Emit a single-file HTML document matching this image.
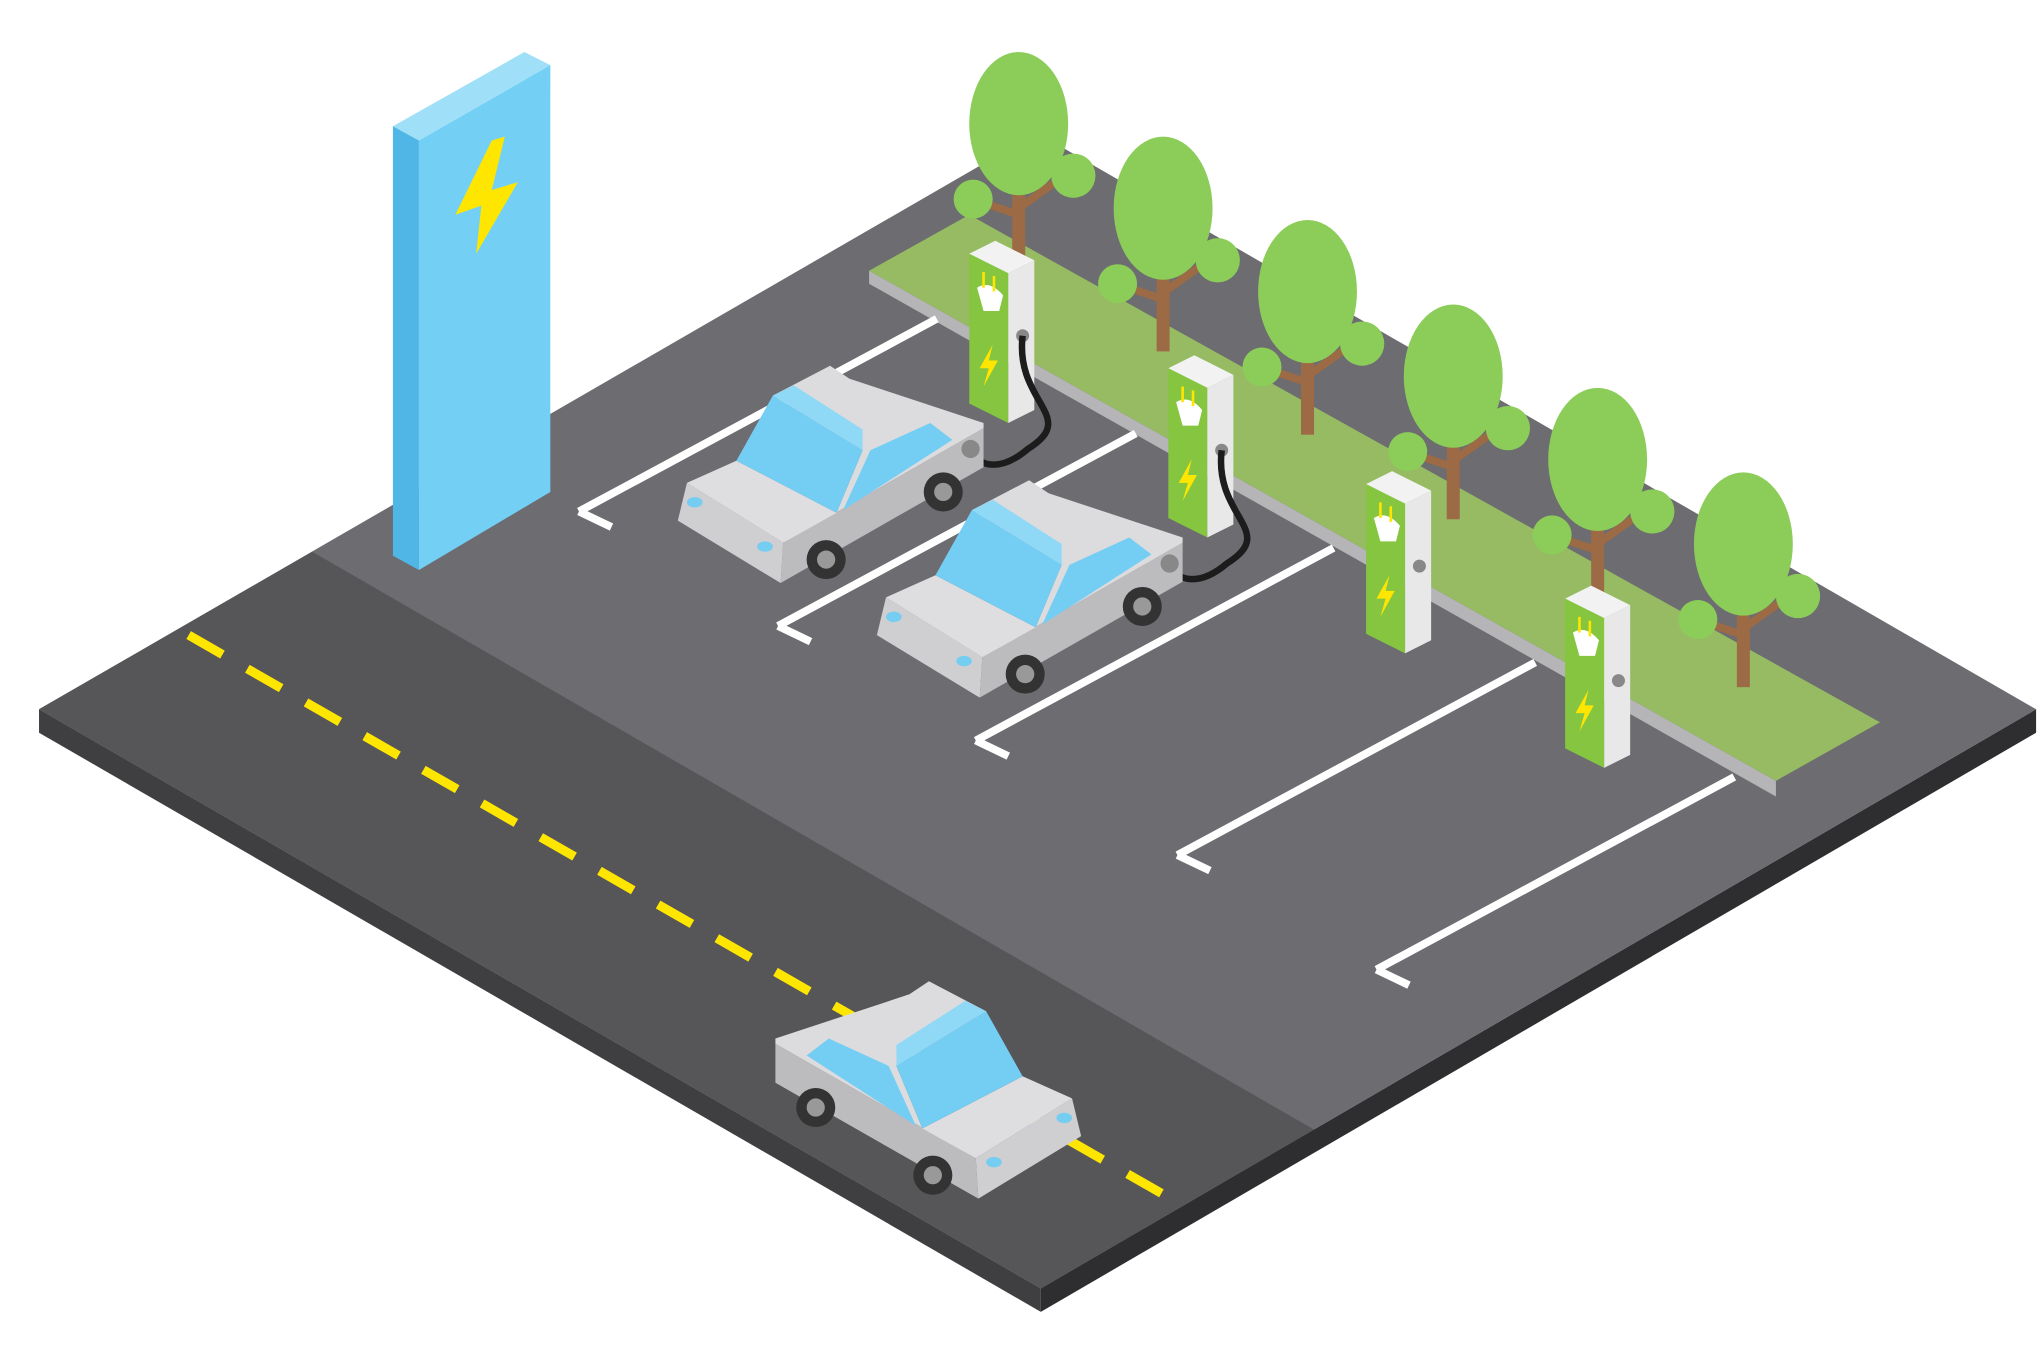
<!DOCTYPE html>
<html><head><style>html,body{margin:0;padding:0;background:#fff}svg{display:block}</style></head>
<body>
<svg width="2040" height="1360" viewBox="0 0 1568 1045" preserveAspectRatio="none" xmlns="http://www.w3.org/2000/svg">
<defs>
<g id="car">
  <polygon points="528,371 602,417 600,448 521,400" fill="#cfcfd1"/>
  <polygon points="602,417 756,329 756,359 600,448" fill="#bcbcbf"/>
  <polygon points="528,371 566,354 643,394 602,417" fill="#dedee0"/>
  <polygon points="594,304 638,281 653,291 756,325 756,329 602,417 643,394 663,346" fill="#dcdcde"/>
  <polygon points="566,354 594,304 663,346 643,394" fill="#74cdf3"/>
  <polygon points="594,304 610,296 663,330 663,346" fill="#8fd8f6"/>
  <polygon points="669,346 715,325 732,338 648,392" fill="#74cdf3"/>
  <ellipse cx="534" cy="386" rx="6" ry="4" fill="#76cdf2"/>
  <ellipse cx="588" cy="420" rx="6" ry="4" fill="#76cdf2"/>
  <circle cx="635" cy="430" r="15" fill="#333"/><circle cx="635" cy="430" r="7" fill="#999"/>
  <circle cx="725" cy="378" r="15" fill="#333"/><circle cx="725" cy="378" r="7" fill="#999"/>
</g>
<g id="charger">
  <polygon points="0,10 20,0 50,15 30,25" fill="#f2f2f2"/>
  <polygon points="0,10 30,25 30,140 0,125" fill="#86c540"/>
  <polygon points="30,25 50,15 50,130 30,140" fill="#e8e8e8"/>
  <path d="M6,36 q10,-6 20,6 l-3,12 h-12 z" fill="#fff"/>
  <rect x="10" y="24" width="2" height="12" fill="#ffe600"/><rect x="18" y="27" width="2" height="12" fill="#ffe600"/>
  <polygon points="18,80 8,98 15,98 11,112 22,92 15,92" fill="#ffe600"/>
  <circle cx="41" cy="73" r="5" fill="#888"/>
</g>
<g id="tree">
  <rect x="-5" y="40" width="10" height="80" fill="#9c6a44"/>
  <path d="M0,80 L-30,70" stroke="#9c6a44" stroke-width="6"/>
  <path d="M0,75 L28,55" stroke="#9c6a44" stroke-width="6"/>
  <ellipse cx="0" cy="10" rx="38" ry="55" fill="#8ccd5a"/>
  <circle cx="-35" cy="68" r="15" fill="#8ccd5a"/>
  <circle cx="42" cy="50" r="17" fill="#8ccd5a"/>
</g>
</defs>
<polygon points="30,545 30,563 800,1008 800,990" fill="#3f3f41"/>
<polygon points="800,990 800,1008 1565,563 1565,545" fill="#2e2e30"/>
<polygon points="30,545 797,102 1565,545 800,990" fill="#6c6c71"/>
<polygon points="30,545 240,424 1010,868 800,990" fill="#565658"/>
<line x1="145" y1="488" x2="898" y2="920" stroke="#ffe600" stroke-width="7" stroke-dasharray="30,22"/>
<polygon points="668,208 668,218 1365,612 1365,600" fill="#b5b5b8"/>
<polygon points="668,208 745,165 1445,555 1365,600" fill="#96bb63"/>
<g stroke="#fff" stroke-width="6" fill="none">
<path d="M445,393 L720,245 M445,393 l25,12"/>
<path d="M598,481 L873,333 M598,481 l25,12"/>
<path d="M750,569 L1025,421 M750,569 l25,12"/>
<path d="M905,657 L1180,509 M905,657 l25,12"/>
<path d="M1058,745 L1333,597 M1058,745 l25,12"/>
</g>
<use href="#tree" x="783" y="85"/>
<use href="#tree" x="894" y="150"/>
<use href="#tree" x="1005" y="214"/>
<use href="#tree" x="1117" y="279"/>
<use href="#tree" x="1228" y="343"/>
<use href="#tree" x="1340" y="408"/>
<use href="#charger" x="745" y="185"/>
<use href="#charger" x="898" y="273"/>
<use href="#charger" x="1050" y="362"/>
<use href="#charger" x="1203" y="450"/>
<path d="M786,258 C780,310 830,320 790,345 C770,362 752,360 746,345" stroke="#1c1c1c" stroke-width="5" fill="none"/>
<path d="M939,346 C933,398 983,408 943,433 C923,450 905,448 899,433" stroke="#1c1c1c" stroke-width="5" fill="none"/>
<use href="#car"/>
<use href="#car" x="153" y="88"/>
<g transform="translate(1352,473) scale(-1,1)"><use href="#car"/></g>
<circle cx="746" cy="345" r="7" fill="#888"/>
<circle cx="899" cy="433" r="7" fill="#888"/>
<polygon points="302,97 403,40 423,50 322,108" fill="#9fe0f8"/>
<polygon points="302,97 322,108 322,438 302,427" fill="#4fb6e6"/>
<polygon points="322,108 423,50 423,378 322,438" fill="#74cff5"/>
<polygon points="378,108 350,165 370,158 366,195 398,140 378,146 388,105" fill="#ffe600"/>
</svg>
</body></html>
